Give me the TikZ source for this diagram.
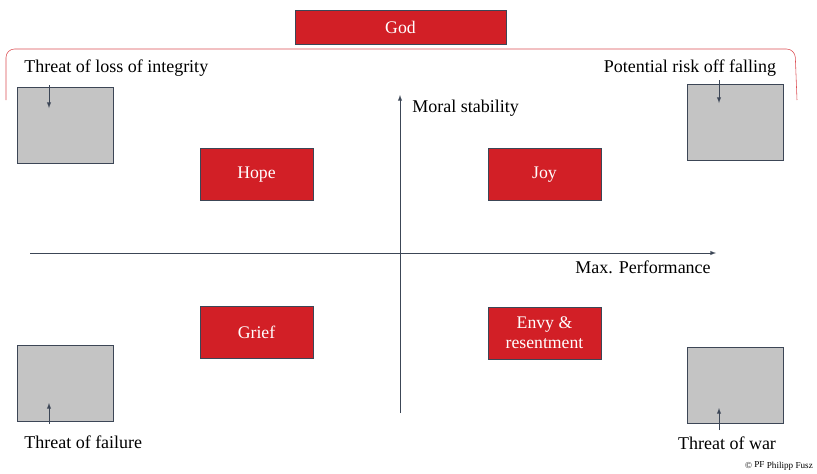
\documentclass[tikz,border=0pt]{standalone}
\usepackage{fontspec}
\setmainfont{Liberation Serif}
\definecolor{feelred}{HTML}{D21F26}
\definecolor{threatgray}{HTML}{C4C4C4}
\definecolor{edgeblue}{HTML}{3C4656}
\begin{document}
\begin{tikzpicture}[x=0.025cm, y=-0.025cm,
    feeling/.style={rectangle, draw=edgeblue, fill=feelred, text=white, minimum width=2.825cm, minimum height=1.3cm, font=\fontsize{12.6}{14}\selectfont, align=center},
    threatbox/.style={rectangle, draw=edgeblue, fill=threatgray, minimum width=2.4cm, minimum height=1.9cm},
    caption/.style={font=\fontsize{12.8}{14}\selectfont, inner sep=0pt},
    pointer/.style={-latex, edgeblue, thin}]
    \useasboundingbox (0,0) rectangle (817,474);

    \node[feeling, minimum width=5.275cm, minimum height=0.85cm] (god) at (400.5,27) {God};

    % bracket below God
    \draw[feelred!80, rounded corners=6] (6,100) -- (6,49) -- (795,49) -- (797,100);

    % axes
    \coordinate (xstart) at (30,253);
    \coordinate (xend) at (716,253);
    \coordinate (ystart) at (400,413);
    \coordinate (yend) at (400,95);
    \draw[-latex, edgeblue] (xstart) -- (xend);
    \draw[-latex, edgeblue] (ystart) -- (yend);
    \node[caption, anchor=west] (moral) at (412,108) {Moral stability};
    \node[caption, anchor=east] (perf) at (711,267) {Max. Performance};

    % feelings
    \node[feeling] (hope) at (256.5,174.5) {Hope};
    \node[feeling] (joy) at (544.5,174.5) {Joy};
    \node[feeling] (grief) at (256.5,332.5) {Grief};
    \node[feeling] (envy) at (544.5,333) {Envy \&\\resentment};

    % threats
    \node[threatbox] (integritybox) at (65,125) {};
    \node[threatbox] (fallingbox) at (735,122) {};
    \node[threatbox] (failurebox) at (65,383) {};
    \node[threatbox] (warbox) at (735,385.5) {};

    \node[caption, anchor=west] (integrity) at (24,68) {Threat of loss of integrity};
    \node[caption] (falling) at (690,68) {Potential risk off falling};
    \node[caption, anchor=west] (failure) at (24,442) {Threat of failure};
    \node[caption] (war) at (727,443) {Threat of war};

    \coordinate (integrityfrom) at (49,85);
    \coordinate (integrityto) at (49,108);
    \coordinate (fallingfrom) at (719,80);
    \coordinate (fallingto) at (719,103);
    \coordinate (failurefrom) at (49,424);
    \coordinate (failureto) at (49,403);
    \coordinate (warfrom) at (719,430);
    \coordinate (warto) at (719,408);
    \draw[pointer] (integrityfrom) -- (integrityto);
    \draw[pointer] (fallingfrom) -- (fallingto);
    \draw[pointer] (failurefrom) -- (failureto);
    \draw[pointer] (warfrom) -- (warto);

    \node[font=\fontsize{6.5}{7}\selectfont, inner sep=0pt] (credit) at (779,466) {\copyright{} \raisebox{0.3ex}{PF} Philipp Fusz};
\end{tikzpicture}
\end{document}
